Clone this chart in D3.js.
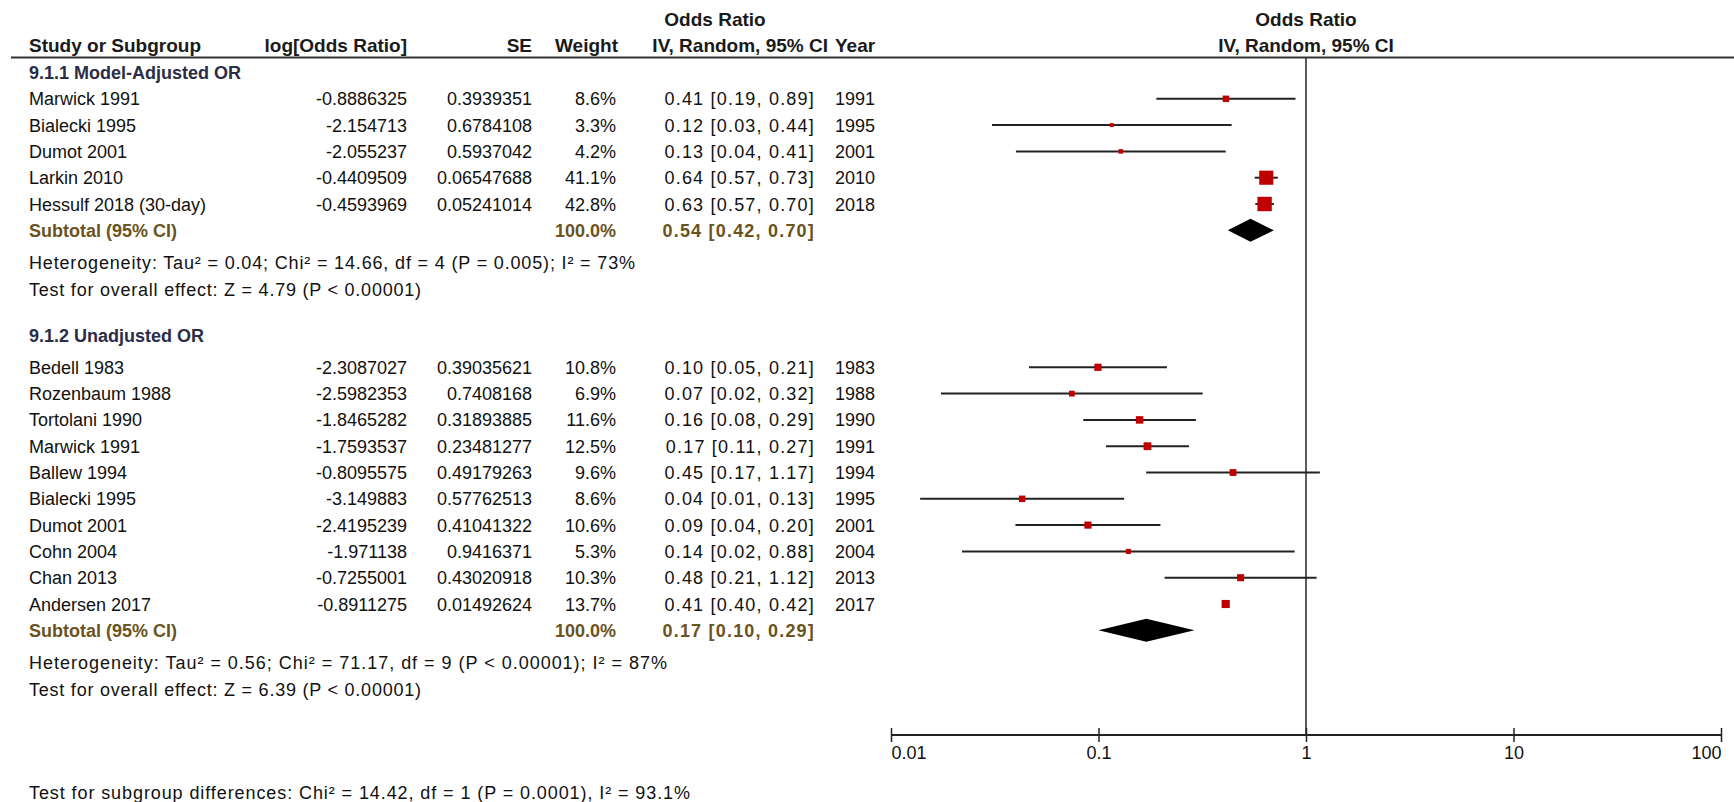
<!DOCTYPE html>
<html>
<head>
<meta charset="utf-8">
<script src="https://cdn.jsdelivr.net/npm/d3@7"></script>
<style>
  html, body { margin: 0; padding: 0; background: #fff; }
  svg { display: block; }
  text { font-family: "Liberation Sans", Arial, sans-serif; font-size: 18px; fill: #111; }
  .head { font-weight: bold; font-size: 19px; fill: #1a1a1a; }
  .grp { font-weight: bold; fill: #2a2d45; }
  .sub { fill: #6b5320; font-weight: bold; }
  .ci { letter-spacing: 1.2px; }
</style>
</head>
<body>
<svg id="chart" width="1734" height="802"></svg>
<script>
// ---- Subgroup 9.1.1 Model-Adjusted OR ----
const g1Title = "9.1.1 Model-Adjusted OR";
const g1Studies = ["Marwick 1991", "Bialecki 1995", "Dumot 2001", "Larkin 2010", "Hessulf 2018 (30-day)"];
const g1LogOR = ["-0.8886325", "-2.154713", "-2.055237", "-0.4409509", "-0.4593969"];
const g1SE = ["0.3939351", "0.6784108", "0.5937042", "0.06547688", "0.05241014"];
const g1Weight = [8.6, 3.3, 4.2, 41.1, 42.8];
const g1Year = [1991, 1995, 2001, 2010, 2018];
const g1Total = [0.54, 0.42, 0.70];   // pooled OR, lower, upper
const g1Het = "Heterogeneity: Tau\u00B2 = 0.04; Chi\u00B2 = 14.66, df = 4 (P = 0.005); I\u00B2 = 73%";
const g1Test = "Test for overall effect: Z = 4.79 (P < 0.00001)";

// ---- Subgroup 9.1.2 Unadjusted OR ----
const g2Title = "9.1.2 Unadjusted OR";
const g2Studies = ["Bedell 1983", "Rozenbaum 1988", "Tortolani 1990", "Marwick 1991", "Ballew 1994",
                   "Bialecki 1995", "Dumot 2001", "Cohn 2004", "Chan 2013", "Andersen 2017"];
const g2LogOR = ["-2.3087027", "-2.5982353", "-1.8465282", "-1.7593537", "-0.8095575",
                 "-3.149883", "-2.4195239", "-1.971138", "-0.7255001", "-0.8911275"];
const g2SE = ["0.39035621", "0.7408168", "0.31893885", "0.23481277", "0.49179263",
              "0.57762513", "0.41041322", "0.9416371", "0.43020918", "0.01492624"];
const g2Weight = [10.8, 6.9, 11.6, 12.5, 9.6, 8.6, 10.6, 5.3, 10.3, 13.7];
const g2Year = [1983, 1988, 1990, 1991, 1994, 1995, 2001, 2004, 2013, 2017];
const g2Total = [0.17, 0.10, 0.29];
const g2Het = "Heterogeneity: Tau\u00B2 = 0.56; Chi\u00B2 = 71.17, df = 9 (P < 0.00001); I\u00B2 = 87%";
const g2Test = "Test for overall effect: Z = 6.39 (P < 0.00001)";

const subgroupTest = "Test for subgroup differences: Chi\u00B2 = 14.42, df = 1 (P = 0.0001), I\u00B2 = 93.1%";

// Axis ticks
const axisTicks = [0.01, 0.1, 1, 10, 100];
const axisLabels = ["0.01", "0.1", "1", "10", "100"];

// ---- layout ----
const svg = d3.select("#chart");
const rowH = 26.3;
const col = { name: 29, logor: 407, se: 532, weight: 616, ci: 814, year: 835 };
const plot = { left: 891, right: 1721, top: 57.5, axisY: 735 };
const x = d3.scaleLog().domain([0.01, 100]).range([plot.left, plot.right]);
const boxK = 2.2;   // box side = boxK * sqrt(weight)
const z = 1.959964; // 95% normal quantile

const fmt2 = d3.format(".2f");
const ciText = (o, l, h) => `${fmt2(o)} [${fmt2(l)}, ${fmt2(h)}]`;

function txt(xp, y, s, anchor, cls, len) {
  const t = svg.append("text").attr("x", xp).attr("y", y + 6.5)
    .attr("text-anchor", anchor || "start").attr("class", cls || null).text(s);
  if (len) t.attr("textLength", len).attr("lengthAdjust", "spacing");
  return t;
}

// ---- header ----
txt(715, 19, "Odds Ratio", "middle", "head");
txt(x(1), 19, "Odds Ratio", "middle", "head");
txt(col.name, 45, "Study or Subgroup", "start", "head");
txt(col.logor, 45, "log[Odds Ratio]", "end", "head");
txt(col.se, 45, "SE", "end", "head");
txt(col.weight + 2, 45, "Weight", "end", "head");
txt(col.ci + 14, 45, "IV, Random, 95% CI", "end", "head");
txt(col.year, 45, "Year", "start", "head");
txt(x(1), 45, "IV, Random, 95% CI", "middle", "head");

svg.append("line").attr("x1", 11).attr("x2", 1734)
  .attr("y1", plot.top).attr("y2", plot.top)
  .attr("stroke", "#333").attr("stroke-width", 2);

// null-effect line
svg.append("line").attr("x1", x(1)).attr("x2", x(1))
  .attr("y1", plot.top).attr("y2", plot.axisY)
  .attr("stroke", "#333").attr("stroke-width", 1.6);

// ---- subgroup block ----
function drawGroup(g) {
  txt(col.name, g.headY, g.title, "start", "grp");
  const rows = g.studies.map((s, i) => {
    const b = +g.logor[i], se = +g.se[i];
    return {
      name: s, logor: g.logor[i], se: g.se[i], w: g.weight[i], year: g.year[i],
      or: Math.exp(b), lo: Math.exp(b - z * se), hi: Math.exp(b + z * se),
      y: g.firstY + i * rowH
    };
  });
  rows.forEach(r => {
    txt(col.name, r.y, r.name);
    txt(col.logor, r.y, r.logor, "end");
    txt(col.se, r.y, r.se, "end");
    txt(col.weight, r.y, r.w.toFixed(1) + "%", "end");
    txt(col.ci + 1, r.y, ciText(r.or, r.lo, r.hi), "end", "ci");
    txt(col.year, r.y, r.year);
  });
  const gm = svg.append("g");
  gm.selectAll("line.ci").data(rows).join("line").attr("class", "ci")
    .attr("x1", d => x(d.lo)).attr("x2", d => x(d.hi))
    .attr("y1", d => d.y).attr("y2", d => d.y)
    .attr("stroke", "#222").attr("stroke-width", 2);
  gm.selectAll("rect.box").data(rows).join("rect").attr("class", "box")
    .attr("x", d => x(d.or) - boxK * Math.sqrt(d.w) / 2)
    .attr("y", d => d.y - boxK * Math.sqrt(d.w) / 2)
    .attr("width", d => boxK * Math.sqrt(d.w))
    .attr("height", d => boxK * Math.sqrt(d.w))
    .attr("fill", "#c00000");

  const ty = g.firstY + rows.length * rowH;
  txt(col.name, ty, "Subtotal (95% CI)", "start", "sub");
  txt(col.weight, ty, "100.0%", "end", "sub");
  txt(col.ci + 1, ty, ciText(g.total[0], g.total[1], g.total[2]), "end", "sub ci");
  const [o, l, h] = g.total;
  gm.append("path")
    .attr("d", `M${x(l)},${ty} L${x(o)},${ty - 11.5} L${x(h)},${ty} L${x(o)},${ty + 11.5} Z`)
    .attr("fill", "#000");

  txt(col.name, ty + 32.5, g.het, "start", null, g.hetLen);
  txt(col.name, ty + 59.5, g.test, "start", null, g.testLen);
}

drawGroup({ title: g1Title, headY: 72, firstY: 98.8, studies: g1Studies, logor: g1LogOR, se: g1SE,
  weight: g1Weight, year: g1Year, total: g1Total, het: g1Het, test: g1Test, hetLen: 606, testLen: 392 });
drawGroup({ title: g2Title, headY: 335, firstY: 367.3, studies: g2Studies, logor: g2LogOR, se: g2SE,
  weight: g2Weight, year: g2Year, total: g2Total, het: g2Het, test: g2Test, hetLen: 638, testLen: 392 });

// ---- axis ----
const axis = d3.axisBottom(x).tickValues(axisTicks).tickSize(7).tickFormat((d, i) => axisLabels[i]);
const ag = svg.append("g").attr("transform", `translate(0,${plot.axisY})`).call(axis);
ag.select(".domain").attr("stroke", "#222").attr("stroke-width", 2).attr("d", `M${plot.left},0H${plot.right}`);
ag.selectAll(".tick line").attr("stroke", "#222").attr("stroke-width", 1.5).attr("y1", -7).attr("y2", 7);
ag.selectAll(".tick text")
  .attr("y", 11).attr("dy", "0.71em")
  .style("font-family", "\"Liberation Sans\", Arial, sans-serif").style("font-size", "18px").attr("fill", "#111")
  .attr("text-anchor", (d, i) => i === 0 ? "start" : (i === axisTicks.length - 1 ? "end" : "middle"));

txt(col.name, 792, subgroupTest, "start", null, 661);
</script>
</body>
</html>
